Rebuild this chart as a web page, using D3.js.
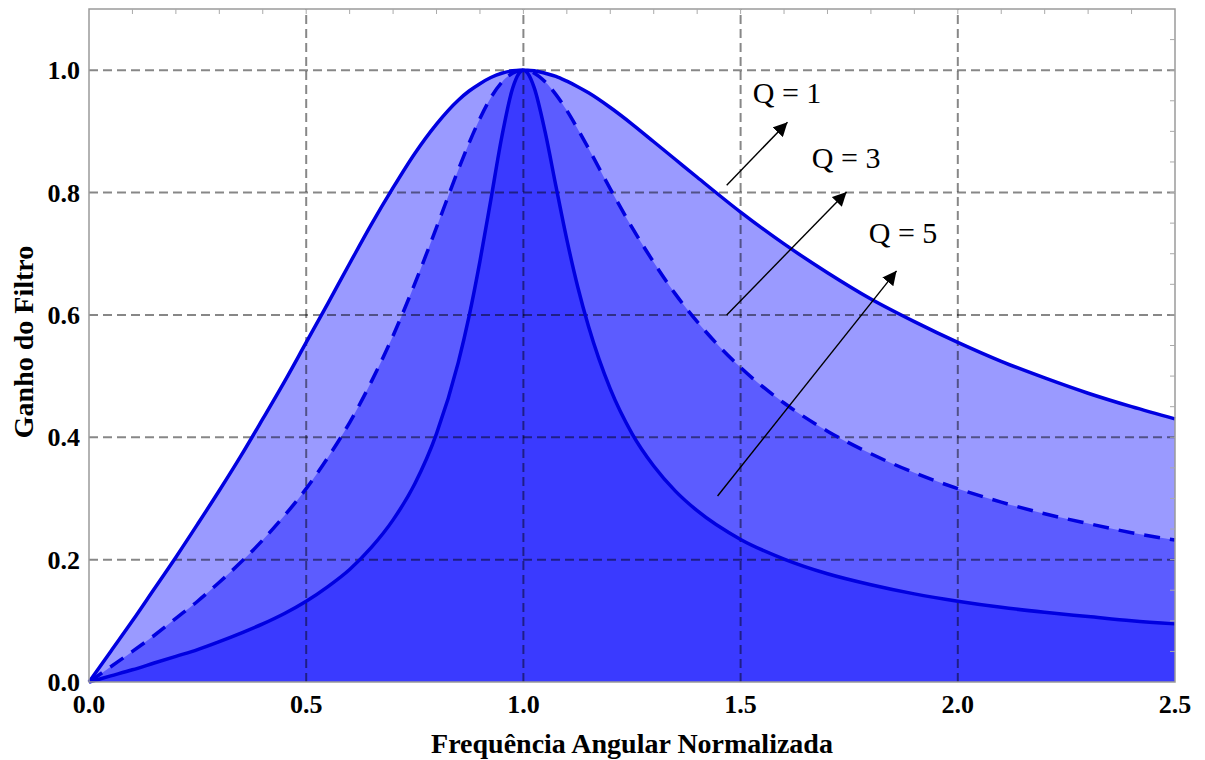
<!DOCTYPE html>
<html><head><meta charset="utf-8">
<script src="https://cdn.jsdelivr.net/npm/d3@7/dist/d3.min.js"></script>
<style>body{margin:0;background:#fff}svg{display:block}</style>
</head><body><svg id="c" width="1205" height="760"></svg>
<script>
// Normalized angular frequency samples
const freq = [0,0.05,0.1,0.15,0.2,0.25,0.3,0.35,0.4,0.45,0.5,0.55,0.6,0.65,0.7,0.75,0.8,0.85,0.875,0.9,0.925,0.95,0.975,0.99,1.0,1.01,1.025,1.05,1.075,1.1,1.125,1.15,1.2,1.25,1.3,1.35,1.4,1.5,1.6,1.7,1.8,1.9,2.0,2.1,2.2,2.3,2.4,2.5];
// Gain values
const gainQ1 = [0,0.050,0.100,0.152,0.204,0.258,0.313,0.370,0.430,0.491,0.555,0.619,0.684,0.748,0.808,0.864,0.912,0.951,0.966,0.978,0.988,0.995,0.999,1.0,1.0,1.0,0.999,0.995,0.990,0.982,0.973,0.963,0.939,0.912,0.883,0.854,0.825,0.768,0.716,0.669,0.626,0.589,0.555,0.524,0.497,0.472,0.450,0.430];
const gainQ3 = [0,0.025,0.050,0.076,0.104,0.132,0.163,0.196,0.232,0.272,0.316,0.367,0.424,0.491,0.566,0.651,0.743,0.837,0.881,0.921,0.955,0.980,0.995,0.999,1.0,0.999,0.995,0.981,0.960,0.934,0.904,0.872,0.806,0.743,0.686,0.634,0.589,0.514,0.456,0.410,0.373,0.342,0.316,0.294,0.275,0.259,0.244,0.232];
const gainQ5 = [0,0.010,0.020,0.031,0.042,0.053,0.066,0.080,0.095,0.112,0.132,0.156,0.184,0.220,0.265,0.324,0.406,0.522,0.598,0.688,0.788,0.890,0.970,0.995,1.0,0.995,0.971,0.899,0.810,0.723,0.646,0.581,0.479,0.406,0.353,0.312,0.280,0.233,0.201,0.177,0.159,0.144,0.132,0.122,0.114,0.107,0.100,0.095];
const xTicks = [0,0.5,1.0,1.5,2.0,2.5];
const yTicks = [0,0.2,0.4,0.6,0.8,1.0];
const qLabels = ["Q = 1","Q = 3","Q = 5"];
// annotation anchors in data units: [label x, label y, arrow tail x, tail y, tip x, tip y]
const labelPos = [[1.528,0.946],[1.664,0.840],[1.795,0.717]];
const arrowPos = [[1.468,0.812,1.608,0.915],[1.468,0.600,1.744,0.801],[1.447,0.304,1.859,0.672]];

const svg = d3.select("#c");
const m = {l:89, r:30, t:9, b:78};
const W = 1205, H = 760;
const x = d3.scaleLinear().domain([0,2.5]).range([m.l, W-m.r]);
const y = d3.scaleLinear().domain([0,1.1]).range([H-m.b, m.t]);

const series = [
  {v:gainQ1, fill:"#9a9aff", dash:null},
  {v:gainQ3, fill:"#5c5cff", dash:"16,10"},
  {v:gainQ5, fill:"#3a3aff", dash:null}
];
const area = vals => d3.area().x((d,i)=>x(freq[i])).y0(y(0)).y1((d,i)=>y(vals[i])).curve(d3.curveMonotoneX)(vals);
const line = vals => d3.line().x((d,i)=>x(freq[i])).y((d,i)=>y(vals[i])).curve(d3.curveMonotoneX)(vals);

series.forEach(s=>{
  svg.append("path").attr("d",area(s.v)).attr("fill",s.fill);
});

// grid
const g = svg.append("g").attr("stroke","#000").attr("stroke-opacity",0.47).attr("stroke-width",2).attr("stroke-dasharray","9,5");
[0.5,1.0,1.5,2.0].forEach(t=>g.append("line").attr("x1",x(t)).attr("x2",x(t)).attr("y1",y(0)).attr("y2",y(1.1)));
[0.2,0.4,0.6,0.8,1.0].forEach(t=>g.append("line").attr("x1",x(0)).attr("x2",x(2.5)).attr("y1",y(t)).attr("y2",y(t)));

series.forEach(s=>{
  svg.append("path").attr("d",line(s.v)).attr("fill","none").attr("stroke","#0000e0")
    .attr("stroke-width",3.5).attr("stroke-dasharray",s.dash);
});

// frame
svg.append("rect").attr("x",x(0)).attr("y",y(1.1)).attr("width",x(2.5)-x(0)).attr("height",y(0)-y(1.1))
  .attr("fill","none").attr("stroke","#9a9a9a").attr("stroke-width",1.5);
// minor ticks top and right
const tk = svg.append("g").attr("stroke","#aaa").attr("stroke-width",1);
d3.range(1,25).forEach(i=>{const t=i*0.1; tk.append("line").attr("x1",x(t)).attr("x2",x(t)).attr("y1",y(1.1)).attr("y2",y(1.1)+5);});
d3.range(1,22).forEach(i=>{const t=i*0.05; tk.append("line").attr("x1",x(2.5)).attr("x2",x(2.5)-5).attr("y1",y(t)).attr("y2",y(t));});

// tick labels
const font = "'Liberation Serif','Times New Roman',serif";
xTicks.forEach(t=>svg.append("text").attr("x",x(t)).attr("y",y(0)+31).attr("text-anchor","middle")
  .attr("font-family",font).attr("font-weight","bold").attr("font-size",26).text(t.toFixed(1)));
yTicks.forEach(t=>svg.append("text").attr("x",x(0)-9).attr("y",y(t)+9).attr("text-anchor","end")
  .attr("font-family",font).attr("font-weight","bold").attr("font-size",26).text(t.toFixed(1)));

svg.append("text").attr("x",632).attr("y",753).attr("text-anchor","middle").attr("font-family",font)
  .attr("font-weight","bold").attr("font-size",28).text("Frequência Angular Normalizada");
svg.append("text").attr("transform","translate(33,342) rotate(-90)").attr("text-anchor","middle").attr("font-family",font)
  .attr("font-weight","bold").attr("font-size",28).text("Ganho do Filtro");

// annotations
svg.append("defs").append("marker").attr("id","ah").attr("viewBox","0 0 10 10").attr("refX",10).attr("refY",5)
  .attr("markerWidth",14).attr("markerHeight",14).attr("markerUnits","userSpaceOnUse").attr("orient","auto")
  .append("path").attr("d","M0,0L10,5L0,10z").attr("fill","#000");
arrowPos.forEach(a=>svg.append("line").attr("x1",x(a[0])).attr("y1",y(a[1])).attr("x2",x(a[2])).attr("y2",y(a[3]))
  .attr("stroke","#000").attr("stroke-width",1.4).attr("marker-end","url(#ah)"));
qLabels.forEach((q,i)=>svg.append("text").attr("x",x(labelPos[i][0])).attr("y",y(labelPos[i][1]))
  .attr("font-family",font).attr("font-size",30).text(q));
</script></body></html>
